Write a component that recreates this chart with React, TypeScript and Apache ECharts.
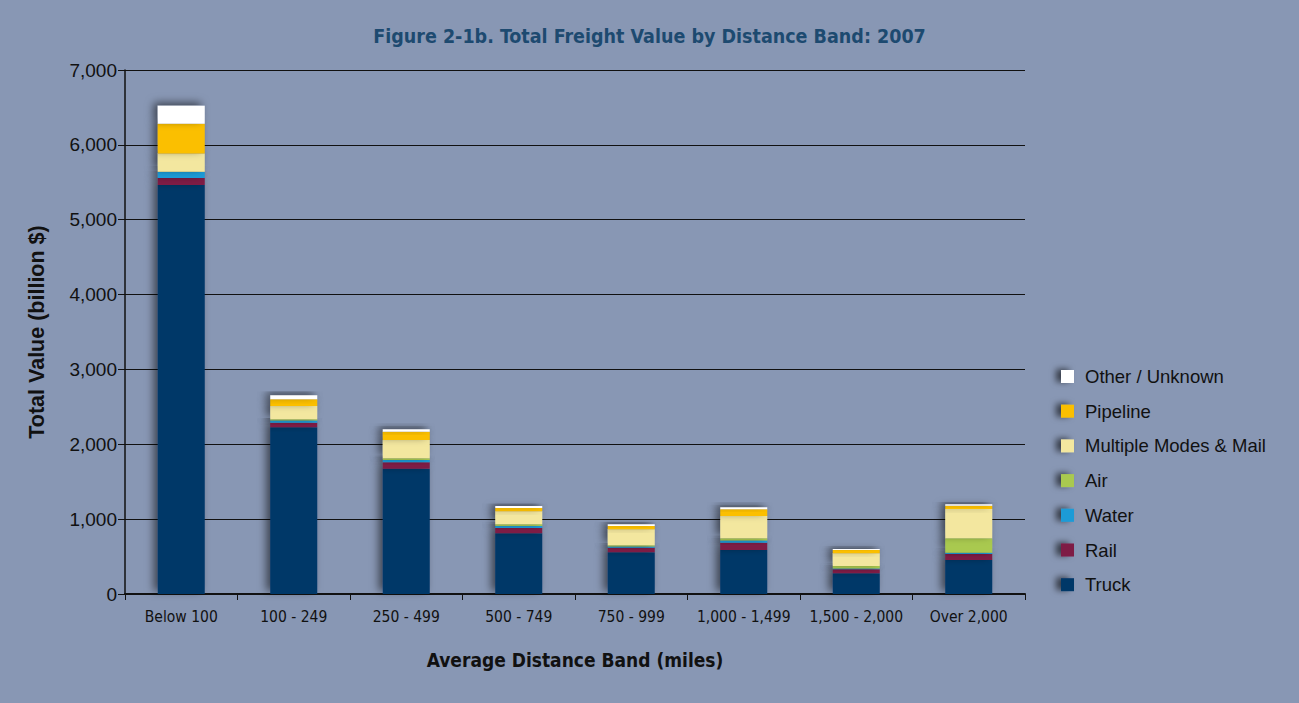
import React, { useEffect, useRef } from "react";
import * as echarts from "echarts";

const categories = ["Below 100", "100 - 249", "250 - 499", "500 - 749", "750 - 999", "1,000 - 1,499", "1,500 - 2,000", "Over 2,000"];
const truck = [5464, 2227, 1674, 811, 557, 588, 277, 454];
const rail = [93, 61, 85, 71, 61, 97, 53, 80];
const water = [80, 30, 31, 25, 15, 30, 10, 18];
const air = [5, 16, 23, 24, 18, 29, 34, 192];
const multipleModes = [241, 177, 244, 174, 213, 298, 170, 391];
const pipeline = [400, 90, 111, 44, 44, 89, 44, 45];
const other = [241, 53, 32, 27, 23, 27, 13, 18];

const seriesNames = ["Truck", "Rail", "Water", "Air", "Multiple Modes & Mail", "Pipeline", "Other / Unknown"];
const seriesData = [truck, rail, water, air, multipleModes, pipeline, other];
const seriesColors = ["#003768", "#7e1d45", "#1a9bd7", "#a9c94f", "#f3e79f", "#fbbf00", "#ffffff"];

const NARROW = "'Liberation Sans Narrow', 'DejaVu Sans Condensed', 'Arial Narrow', sans-serif";
const SANS = "'Liberation Sans', Arial, sans-serif";

export default function App() {
  const ref = useRef<HTMLDivElement>(null);
  useEffect(() => {
    document.body.style.margin = "0";
    const chart = echarts.init(ref.current!, undefined, { renderer: "svg" });
    chart.setOption({
      animation: false,
      backgroundColor: "#8897b4",
      title: {
        text: "Figure 2-1b. Total Freight Value by Distance Band: 2007",
        left: "center",
        top: 21,
        textStyle: { fontFamily: NARROW, fontSize: 19.5, fontWeight: "bold", color: "#1d4a70" },
      },
      legend: {
        orient: "vertical",
        left: 1056,
        top: 362,
        itemWidth: 13,
        itemHeight: 13,
        itemGap: 15.7,
        icon: "rect",
        data: seriesNames.slice().reverse(),
        itemStyle: {
          shadowColor: "rgba(0,0,0,0.6)",
          shadowBlur: 6,
          shadowOffsetX: -5,
          shadowOffsetY: -1,
        },
        textStyle: { fontFamily: SANS, fontSize: 18.5, color: "#111", padding: [0, 0, 0, 6] },
      },
      grid: { left: 125, right: 274, top: 70, bottom: 109 },
      xAxis: {
        type: "category",
        data: categories,
        name: "Average Distance Band (miles)",
        nameLocation: "middle",
        nameGap: 56,
        nameTextStyle: { fontFamily: NARROW, fontSize: 19, fontWeight: "bold", color: "#111" },
        axisLine: { lineStyle: { color: "#111", width: 2 } },
        axisTick: { show: true, length: 6, lineStyle: { color: "#111" } },
        axisLabel: { interval: 0, fontFamily: NARROW, fontSize: 15.5, color: "#111", margin: 15 },
      },
      yAxis: {
        type: "value",
        min: 0,
        max: 7000,
        interval: 1000,
        name: "Total Value (billion $)",
        nameLocation: "middle",
        nameGap: 77,
        nameTextStyle: { fontFamily: SANS, fontSize: 21.5, fontWeight: "bold", color: "#111" },
        axisLine: { show: true, lineStyle: { color: "#111", width: 1.5 } },
        axisTick: { show: true, length: 7, lineStyle: { color: "#111" } },
        axisLabel: {
          fontFamily: SANS,
          fontSize: 19,
          color: "#111",
          margin: 8,
          formatter: (v: number) => v.toLocaleString("en-US"),
        },
        splitLine: { lineStyle: { color: "#111", width: 1 } },
      },
      series: seriesNames.map((name, i) => ({
        name,
        type: "bar",
        stack: "total",
        barWidth: 47,
        data: seriesData[i],
        itemStyle: {
          color: seriesColors[i],
          shadowColor: "rgba(0,0,0,0.55)",
          shadowBlur: 8,
          shadowOffsetX: -4,
          shadowOffsetY: -3,
        },
      })),
    });
    return () => chart.dispose();
  }, []);
  return <div ref={ref} style={{ width: 1299, height: 703 }} />;
}
